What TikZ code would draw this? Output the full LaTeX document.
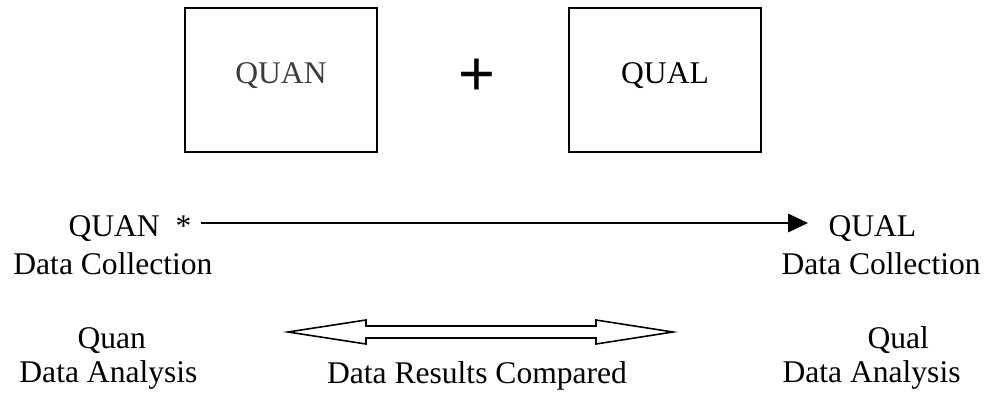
\documentclass[tikz,border=0pt]{standalone}
\usepackage{fontspec}
\setmainfont{Liberation Serif}
\newfontfamily\plusfont{Liberation Sans}
\usepackage{tikz}
\usepackage{xcolor}
\usetikzlibrary{arrows.meta,calc,positioning}
\definecolor{Ink}{HTML}{000000}
\definecolor{BoxText}{HTML}{3C3C3C}

\tikzset{
    lbl/.style={font=\fontsize{12}{14}\selectfont, inner sep=0pt},
    designbox/.style={draw=Ink, line width=0.8pt, minimum width=73pt, minimum height=55pt, inner sep=0pt},
    conn/.style={-{Triangle[length=7.6pt, width=7pt]}, line width=0.8pt, Ink}
}

\begin{document}
\begin{tikzpicture}[x=0.38pt, y=-0.38pt]
    \useasboundingbox (0,0) rectangle (986,396);

    % Concurrent strands: two boxes joined by a plus
    \node[designbox] (quanBox) at (281,80) {};
    \node[lbl, anchor=base, BoxText] (quanBoxText) at (281,83) {QUAN};
    \node[designbox] (qualBox) at (665,80) {};
    \node[lbl, anchor=base] (qualBoxText) at (665,83) {QUAL};
    \node[inner sep=0pt, font=\plusfont\fontsize{24}{26}\selectfont] (plus) at (477,77) {+};

    % Data collection row
    \node[lbl, anchor=base west] (quanColl) at (68,236) {QUAN \ *};
    \node[lbl, anchor=base east] (quanCollSub) at (213,274) {Data Collection};
    \node[lbl, anchor=base west] (qualColl) at (828,236) {QUAL};
    \node[lbl, anchor=base west] (qualCollSub) at (781,274) {Data Collection};

    % Collection arrow
    \draw[conn] ($(quanColl.base east)+(9,-13)$) -- ($(qualColl.base west)+(-20,-13)$);

    % Data analysis row
    \node[lbl, anchor=base west] (quanAn) at (77,348) {Quan};
    \node[lbl, anchor=base east] (quanAnSub) at (198,382) {Data Analysis};
    \node[lbl, anchor=base west] (qualAn) at (867,348) {Qual};
    \node[lbl, anchor=base west] (qualAnSub) at (782,382) {Data Analysis};
    \node[lbl, anchor=base] (compared) at (477,383) {Data Results Compared};

    % Hollow double-headed arrow over the comparison
    \draw[line width=0.6pt, Ink, line join=miter]
        (288,332) -- (366,320) -- (366,326) -- (596,326) -- (596,320) -- (673,332)
        -- (596,344) -- (596,338) -- (366,338) -- (366,344) -- cycle;

\end{tikzpicture}
\end{document}
